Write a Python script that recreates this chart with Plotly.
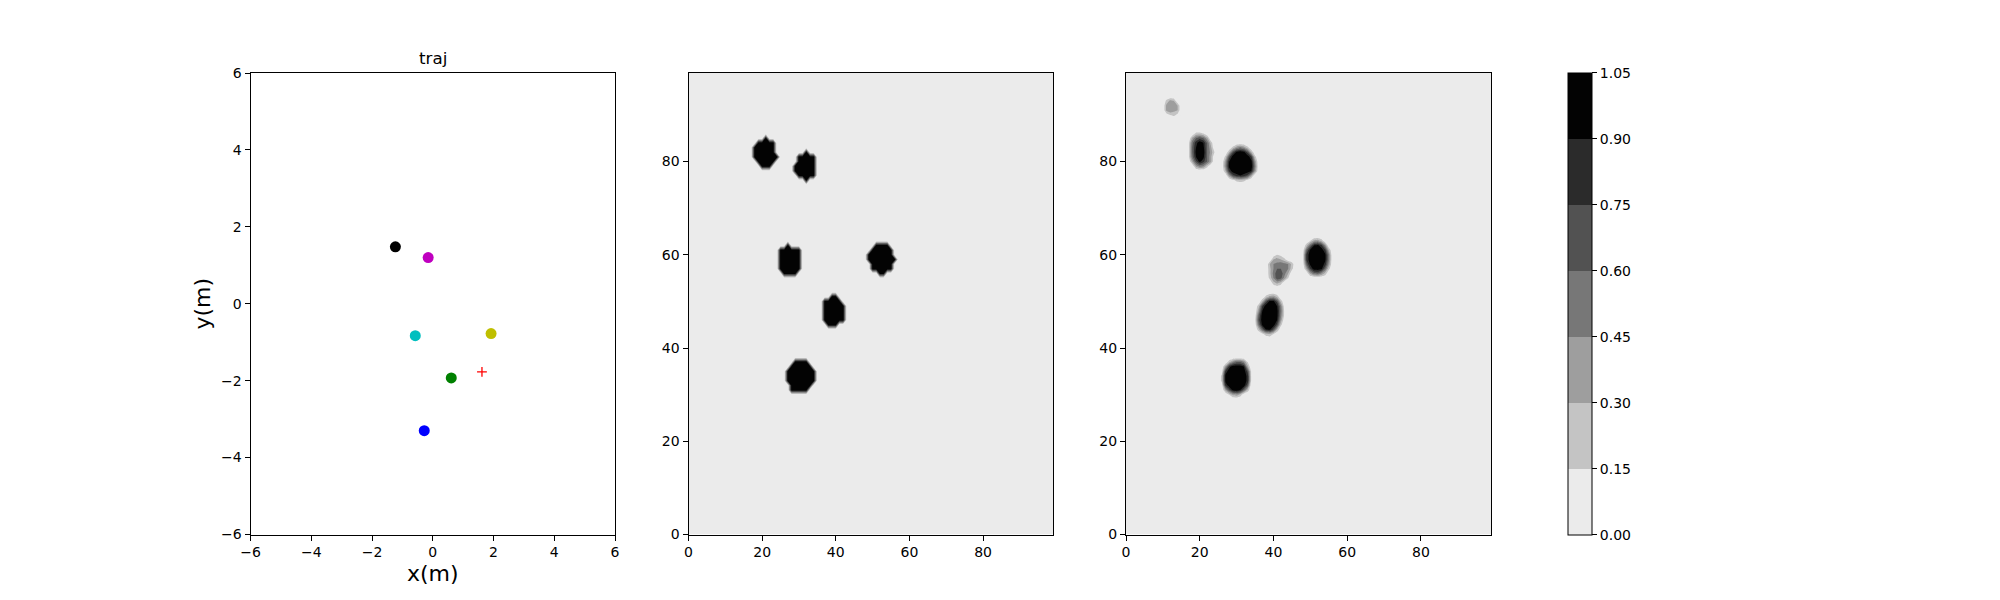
import plotly.graph_objects as go

# ---------- data ----------
TRAJ_X = [-1.23, -0.15, -0.575, 1.92, 0.61, -0.28]
TRAJ_Y = [1.48, 1.20, -0.83, -0.775, -1.93, -3.30]
TRAJ_COLORS = ["#000000", "#bf00bf", "#00bfbf", "#bfbf00", "#008000", "#0000ff"]
TARGET_X = [1.62]
TARGET_Y = [-1.77]

# (row, first column, last column) of cells that are set to 1
MID_RUNS = [
    (85,21,21),(84,19,23),(83,18,23),(82,18,23),(81,18,24),(80,19,23),(79,20,22),
    (82,32,32),(81,30,34),(80,30,34),(79,29,34),(78,29,34),(77,30,34),(76,32,32),
    (62,27,27),(61,25,30),(60,25,30),(59,25,30),(58,25,30),(57,25,30),(56,26,29),
    (62,51,54),(61,50,55),(60,49,55),(59,49,56),(58,50,55),(57,50,55),(56,52,53),
    (51,39,40),(50,37,41),(49,37,42),(48,37,42),(47,37,42),(46,37,42),(45,38,40),
    (37,29,32),(36,28,33),(35,27,34),(34,27,34),(33,27,34),(32,28,33),(31,28,32),
]

# (row, first column, values)
RIGHT_ROWS = [
    (93,11,[.2,.35,.3]),(92,11,[.35,.45,.35,.3]),(91,11,[.35,.45,.35,.3]),(90,11,[.05,.15,.2,.1]),
    (86,19,[.2,.2,.15]),(85,18,[.35,.6,.7,.6,.35]),(84,17,[.1,.55,.85,1,.9,.6,.25]),
    (83,17,[.1,.6,.9,1,.95,.6,.35]),(82,17,[.1,.6,.95,1,1,.6,.4,.15]),(81,17,[.1,.55,.9,1,.95,.6,.35]),
    (80,18,[.35,.7,.95,.8,.6,.35]),(79,19,[.35,.5,.45,.2]),
    (83,29,[.2,.4,.5,.4,.2]),(82,28,[.3,.7,.95,1,.95,.7,.3]),(81,27,[.2,.7,1,1,1,1,1,.8,.2]),
    (80,27,[.4,.9,1,1,1,1,1,.95,.4]),(79,27,[.45,.95,1,1,1,1,1,1,.5]),
    (78,27,[.3,.8,1,1,1,1,1,.9,.4]),(77,28,[.4,.7,.85,.9,.85,.7,.35]),(76,29,[.1,.2,.25,.2,.1]),
    (60,40,[.05,.15,.1]),(59,40,[.3,.35,.3,.2]),(58,39,[.3,.45,.5,.55,.5,.45,.25]),(57,39,[.25,.45,.6,.6,.55,.45,.2]),
    (56,39,[.25,.5,.7,.7,.5,.3]),(55,39,[.2,.45,.7,.65,.4,.15]),(54,40,[.25,.35,.25]),(53,41,[.05]),
    (63,50,[.15,.35,.4,.25]),(62,49,[.25,.6,.9,.95,.8,.45]),(61,48,[.05,.6,.95,1,1,1,.8,.3]),
    (60,48,[.1,.8,1,1,1,1,.95,.5]),(59,48,[.1,.8,1,1,1,1,.95,.5]),(58,48,[.05,.6,.95,1,1,1,.85,.4]),
    (57,49,[.35,.75,1,1,.95,.6,.2]),(56,50,[.35,.55,.6,.45,.25]),
    (51,38,[.2,.35,.4,.25]),(50,37,[.3,.7,.95,.95,.7,.25]),(49,36,[.25,.75,1,1,1,.9,.5,.05]),
    (48,36,[.4,.9,1,1,1,.95,.55,.1]),(47,35,[.05,.6,1,1,1,1,.95,.5,.1]),(46,35,[.1,.7,1,1,1,1,.9,.4]),
    (45,35,[.05,.55,.95,1,1,1,.7,.2]),(44,36,[.25,.6,.9,.95,.7,.3]),(43,37,[.1,.25,.3,.15]),
    (37,28,[.25,.45,.6,.6,.45,.15]),(36,27,[.4,.85,1,1,1,.9,.35]),(35,26,[.05,.8,1,1,1,1,1,.7,.1]),
    (34,26,[.2,.95,1,1,1,1,1,.85,.1]),(33,26,[.2,.95,1,1,1,1,1,.85,.1]),(32,26,[.05,.8,1,1,1,1,1,.65]),
    (31,27,[.35,.7,.95,1,.9,.6,.25]),(30,28,[.15,.35,.4,.25]),
]

BAND_COLORS = ["#ebebeb", "#c4c4c4", "#9e9e9e", "#777777", "#525252", "#2b2b2b", "#030303"]
CBAR_TICKS = [0.0, 0.15, 0.30, 0.45, 0.60, 0.75, 0.90, 1.05]
GRID_TICKS = [0, 20, 40, 60, 80]
TRAJ_TICKS = [-6, -4, -2, 0, 2, 4, 6]
N = 100

# ---------- assemble grids ----------
z_mid = [[0.0] * N for _ in range(N)]
for row, a, b in MID_RUNS:
    for c in range(a, b + 1):
        z_mid[row][c] = 1.0
z_right = [[0.0] * N for _ in range(N)]
for row, a, vals in RIGHT_ROWS:
    for i, v in enumerate(vals):
        z_right[row][a + i] = v

steps = []
for i, col in enumerate(BAND_COLORS):
    steps += [[i / len(BAND_COLORS), col], [(i + 1) / len(BAND_COLORS), col]]

# ---------- layout constants ----------
W, H = 2000, 600
FONT = "DejaVu Sans"
TOP, BOTTOM = 73, 534.5
PANELS = [(250.5, 615), (688.5, 1053), (1126, 1491)]
ydom = [1 - BOTTOM / H, 1 - TOP / H]


def axis(dom=None, rng=None, ticks=None, title=None, standoff=6, anchor=None):
    d = dict(
        range=rng, tickvals=ticks, showgrid=False, zeroline=False, showline=True, mirror=True,
        linecolor="black", linewidth=1, ticks="outside", ticklen=5, tickwidth=1, tickcolor="black",
        tickfont=dict(family=FONT, size=14, color="black"), anchor=anchor,
    )
    if dom:
        d["domain"] = dom
    if title:
        d["title"] = dict(text=title, font=dict(family=FONT, size=22, color="black"), standoff=standoff)
    return d


fig = go.Figure()
fig.add_trace(go.Scatter(
    x=TRAJ_X, y=TRAJ_Y, mode="markers", xaxis="x", yaxis="y",
    marker=dict(color=TRAJ_COLORS, size=11, line=dict(width=0)), showlegend=False,
))
fig.add_trace(go.Scatter(
    x=TARGET_X, y=TARGET_Y, mode="markers", xaxis="x", yaxis="y",
    marker=dict(symbol="cross-thin", size=7, line=dict(color="#ff0000", width=1.3)), showlegend=False,
))

contour_kw = dict(
    colorscale=steps, zmin=0, zmax=1.05, autocontour=False,
    contours=dict(start=0, end=1.05, size=0.15, coloring="fill"),
    line=dict(width=0, smoothing=0),
    hoverinfo="skip",
)
fig.add_trace(go.Contour(
    z=z_mid, xaxis="x2", yaxis="y2", showscale=False, **contour_kw,
))
fig.add_trace(go.Contour(
    z=z_right, xaxis="x3", yaxis="y3", showscale=True,
    colorbar=dict(
        thicknessmode="pixels", thickness=24, lenmode="fraction", len=(BOTTOM - TOP) / H,
        x=1568 / W, xanchor="left", xref="paper", y=sum(ydom) / 2, yanchor="middle", yref="paper",
        xpad=0, ypad=0, outlinecolor="black", outlinewidth=1,
        ticks="outside", ticklen=5, tickwidth=1, tickcolor="black",
        tickvals=CBAR_TICKS, tickformat=".2f",
        tickfont=dict(family=FONT, size=14, color="black"),
    ),
    **contour_kw,
))

fig.update_layout(
    width=W, height=H, margin=dict(l=0, r=0, t=0, b=0, autoexpand=False),
    paper_bgcolor="white", plot_bgcolor="white", showlegend=False,
    font=dict(family=FONT, color="black"),
    xaxis=axis([PANELS[0][0] / W, PANELS[0][1] / W], [-6, 6], TRAJ_TICKS, "x(m)", anchor="y"),
    yaxis=axis(ydom, [-6, 6], TRAJ_TICKS, "y(m)", standoff=4, anchor="x"),
    xaxis2=axis([PANELS[1][0] / W, PANELS[1][1] / W], [0, 99], GRID_TICKS, anchor="y2"),
    yaxis2=axis(ydom, [0, 99], GRID_TICKS, anchor="x2"),
    xaxis3=axis([PANELS[2][0] / W, PANELS[2][1] / W], [0, 99], GRID_TICKS, anchor="y3"),
    yaxis3=axis(ydom, [0, 99], GRID_TICKS, anchor="x3"),
    annotations=[dict(
        text="traj", xref="paper", yref="paper", x=(PANELS[0][0] + PANELS[0][1]) / 2 / W,
        y=1 - 70 / H, yanchor="bottom", xanchor="center", showarrow=False,
        font=dict(family=FONT, size=16.7, color="black"),
    )],
)

fig.write_html("out.html", config={"displayModeBar": False},
               post_script="document.body.style.margin='0';")
